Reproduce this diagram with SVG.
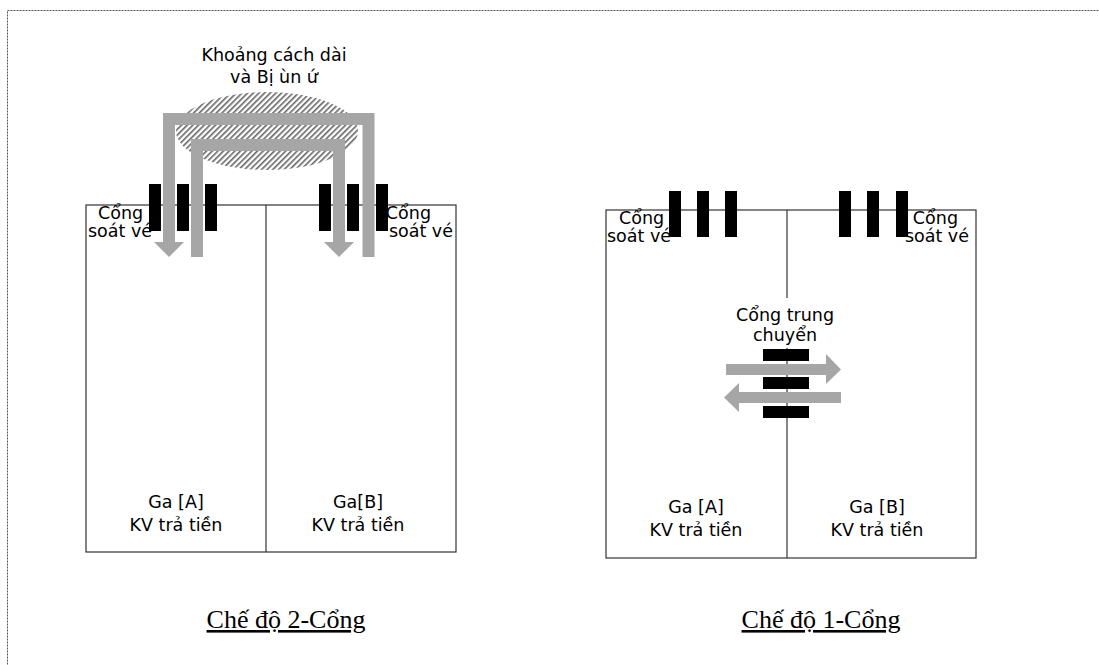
<svg xmlns="http://www.w3.org/2000/svg" width="1099" height="665" viewBox="0 0 1099 665">
<style>
.box{fill:none;stroke:#333;stroke-width:1.2}
.ln{stroke:#333;stroke-width:1.2}
.gate{fill:#000}
.flow{fill:none;stroke:#a6a6a6;stroke-width:12;stroke-linejoin:miter}
.head{fill:#a6a6a6}
.t{font-family:"DejaVu Sans",sans-serif;font-size:17.5px;fill:#000}
.title{font-family:"Liberation Serif",serif;font-size:26px;fill:#000;text-decoration:underline}
</style>
<defs>
<pattern id="hatch" width="4" height="4" patternUnits="userSpaceOnUse" patternTransform="rotate(45)">
<rect width="4" height="4" fill="#fff"/>
<rect width="1.6" height="4" fill="#666"/>
</pattern>
</defs>
<rect x="7.5" y="10.5" width="1100" height="670" fill="none" stroke="#555" stroke-width="1" stroke-dasharray="2,1"/>

<g id="left-diagram">
<g id="left-box">
<rect class="box" x="86" y="205" width="370" height="347"/>
<line class="ln" x1="266" y1="205" x2="266" y2="552"/>
</g>
<g id="congestion">
<ellipse cx="267" cy="131" rx="91" ry="39" fill="url(#hatch)"/>
<text class="t" text-anchor="middle"><tspan x="274" y="61">Khoảng cách dài</tspan><tspan x="274" y="83">và Bị ùn ứ</tspan></text>
</g>
<g id="left-labels">
<text class="t"><tspan x="98" y="219">Cổng</tspan><tspan x="88" y="237">soát vé</tspan></text>
<text class="t" text-anchor="end"><tspan x="431" y="219">Cổng</tspan><tspan x="453" y="237">soát vé</tspan></text>
</g>
<g id="left-gates-A">
<rect class="gate" x="149" y="184" width="12" height="47"/>
<rect class="gate" x="177" y="184" width="12" height="47"/>
<rect class="gate" x="205" y="184" width="12" height="47"/>
</g>
<g id="left-gates-B">
<rect class="gate" x="319" y="184" width="12" height="47"/>
<rect class="gate" x="347" y="184" width="12" height="47"/>
<rect class="gate" x="376" y="184" width="12" height="47"/>
</g>
<g id="left-flows">
<polyline class="flow" points="368.5,257 368.5,119 169,119 169,243"/>
<polygon class="head" points="154,242 184,242 169,257"/>
<polyline class="flow" points="197,257 197,145 339,145 339,243"/>
<polygon class="head" points="324,242 354,242 339,257"/>
</g>
<g id="left-stations">
<text class="t" text-anchor="middle"><tspan x="176" y="508">Ga [A]</tspan><tspan x="176" y="531">KV trả tiền</tspan></text>
<text class="t" text-anchor="middle"><tspan x="358" y="508">Ga[B]</tspan><tspan x="358" y="531">KV trả tiền</tspan></text>
</g>
<text id="title-2" class="title" x="286" y="628" text-anchor="middle">Chế độ 2-Cổng</text>
</g>

<g id="right-diagram">
<g id="right-box">
<rect class="box" x="606" y="210" width="370" height="348"/>
<line class="ln" x1="787" y1="210" x2="787" y2="298"/>
<line class="ln" x1="787" y1="348" x2="787" y2="558"/>
</g>
<g id="right-labels">
<text class="t"><tspan x="619" y="224">Cổng</tspan><tspan x="607" y="242">soát vé</tspan></text>
<text class="t" text-anchor="end"><tspan x="958" y="224">Cổng</tspan><tspan x="969" y="242">soát vé</tspan></text>
</g>
<g id="right-gates-A">
<rect class="gate" x="669" y="191" width="12" height="46"/>
<rect class="gate" x="697" y="191" width="12" height="46"/>
<rect class="gate" x="725" y="191" width="12" height="46"/>
</g>
<g id="right-gates-B">
<rect class="gate" x="839" y="191" width="12" height="46"/>
<rect class="gate" x="867" y="191" width="12" height="46"/>
<rect class="gate" x="896" y="191" width="12" height="46"/>
</g>
<g id="transfer-gate">
<text class="t" text-anchor="middle"><tspan x="785" y="321">Cổng trung</tspan><tspan x="785" y="341">chuyển</tspan></text>
<rect class="gate" x="763" y="349" width="46" height="12"/>
<rect class="gate" x="763" y="377" width="46" height="12"/>
<rect class="gate" x="763" y="406" width="46" height="12"/>
</g>
<g id="transfer-flows">
<rect class="head" x="726" y="364" width="101" height="11"/>
<polygon class="head" points="826,354 841,369.5 826,384"/>
<rect class="head" x="738" y="392" width="103" height="11"/>
<polygon class="head" points="739,383 724,397.5 739,412"/>
</g>
<g id="right-stations">
<text class="t" text-anchor="middle"><tspan x="696" y="513">Ga [A]</tspan><tspan x="696" y="536">KV trả tiền</tspan></text>
<text class="t" text-anchor="middle"><tspan x="877" y="513">Ga [B]</tspan><tspan x="877" y="536">KV trả tiền</tspan></text>
</g>
<text id="title-1" class="title" x="821" y="628" text-anchor="middle">Chế độ 1-Cổng</text>
</g>
</svg>
